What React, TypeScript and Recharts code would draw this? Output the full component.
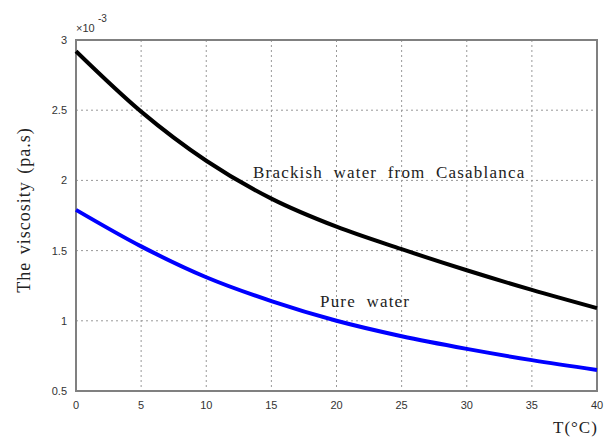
import React from "react";
import {
  LineChart,
  Line,
  XAxis,
  YAxis,
  CartesianGrid,
  ReferenceArea,
} from "recharts";

// temperatures (°C) and viscosities (x 10^-3 Pa.s)
const temps = [0, 5, 10, 15, 20, 25, 30, 35, 40];
const brackish = [2.92, 2.49, 2.14, 1.87, 1.67, 1.51, 1.36, 1.22, 1.09];
const pure = [1.79, 1.53, 1.31, 1.14, 1.0, 0.89, 0.8, 0.72, 0.65];
const xTicks = [0, 5, 10, 15, 20, 25, 30, 35, 40];
const yTicks = [0.5, 1, 1.5, 2, 2.5, 3];

const data = temps.map((t, i) => ({ t, brackish: brackish[i], pure: pure[i] }));

const tickStyle = { fontFamily: "Liberation Sans, Arial, sans-serif", fontSize: 11, fill: "#333" };
const serif = "Liberation Serif, Times New Roman, serif";

export default function App() {
  return (
    <div style={{ position: "absolute", left: 0, top: 0, width: 606, height: 438, background: "#fff" }}>
      <LineChart width={606} height={438} data={data} margin={{ top: 40, right: 9, bottom: 0, left: 0 }}>
        <CartesianGrid stroke="#999" strokeDasharray="2 3" />
        <XAxis
          dataKey="t"
          type="number"
          domain={[0, 40]}
          ticks={xTicks}
          height={47}
          tick={tickStyle}
          tickLine={false}
          axisLine={false}
          tickMargin={4}
        />
        <YAxis
          type="number"
          domain={[0.5, 3]}
          ticks={yTicks}
          width={76}
          tick={tickStyle}
          tickLine={false}
          axisLine={false}
          tickMargin={3}
          tickFormatter={(v: number) => String(v)}
        />
        <ReferenceArea x1={0} x2={40} y1={0.5} y2={3} fill="none" stroke="#808080" strokeWidth={2} />
        <Line type="monotone" dataKey="brackish" stroke="#000" strokeWidth={4} dot={false} isAnimationActive={false} />
        <Line type="monotone" dataKey="pure" stroke="#0000ff" strokeWidth={4} dot={false} isAnimationActive={false} />
      </LineChart>
      <svg width={606} height={438} style={{ position: "absolute", left: 0, top: 0, pointerEvents: "none" }}>
        <text x={76} y={32} style={tickStyle}>×10</text>
        <text x={98} y={22} style={{ ...tickStyle, fontSize: 10 }}>-3</text>
        <text x={253} y={178} fontFamily={serif} fontSize={17} fill="#222" letterSpacing={1.2} wordSpacing={5}>
          Brackish water from Casablanca
        </text>
        <text x={320} y={307} fontFamily={serif} fontSize={17} fill="#222" letterSpacing={1.2} wordSpacing={5}>
          Pure water
        </text>
        <text x={553} y={433} fontFamily={serif} fontSize={17} fill="#222" letterSpacing={1}>
          T(°C)
        </text>
        <text
          x={0}
          y={0}
          transform="translate(30,210) rotate(-90)"
          textAnchor="middle"
          fontFamily={serif}
          fontSize={18}
          fill="#222"
          letterSpacing={1}
          wordSpacing={2}
        >
          The viscosity (pa.s)
        </text>
      </svg>
    </div>
  );
}
